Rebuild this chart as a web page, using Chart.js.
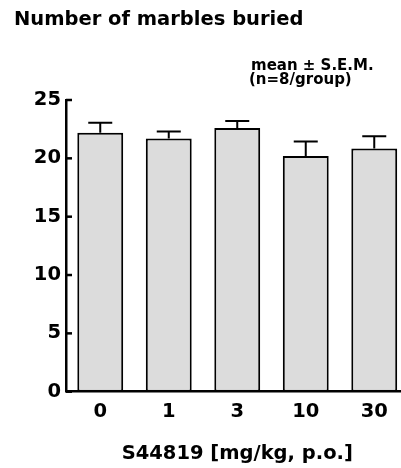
<!DOCTYPE html>
<html>
<head>
<meta charset="utf-8">
<script src="https://cdn.jsdelivr.net/npm/chart.js@4"></script>
<style>
  html, body { margin: 0; padding: 0; background: #fff; overflow: hidden; width: 401px; height: 468px; }
  canvas { display: block; }
</style>
</head>
<body>
<canvas id="c" width="410" height="468" style="width:410px;height:468px"></canvas>
<script>
const categories = ['0', '1', '3', '10', '30'];
const means = [22.2, 21.7, 22.6, 20.2, 20.85];
const sems = [0.85, 0.6, 0.6, 1.25, 1.05];
const yTicks = [0, 5, 10, 15, 20, 25];
const chartTitle = 'Number of marbles buried';
const noteLines = ['mean \u00b1 S.E.M.', '(n=8/group)'];
const xAxisTitle = 'S44819 [mg/kg, p.o.]';

const FONT = '"DejaVu Sans", sans-serif';

const decorPlugin = {
  id: 'decor',
  afterDatasetsDraw(chart) {
    const ctx = chart.ctx;
    const y = chart.scales.y;
    const meta = chart.getDatasetMeta(0);
    ctx.save();
    ctx.strokeStyle = '#000';
    ctx.lineWidth = 2;
    meta.data.forEach((bar, i) => {
      const top = y.getPixelForValue(means[i]);
      const et = y.getPixelForValue(means[i] + sems[i]);
      ctx.beginPath();
      ctx.moveTo(bar.x, top);
      ctx.lineTo(bar.x, et);
      ctx.moveTo(bar.x - 12, et);
      ctx.lineTo(bar.x + 12, et);
      ctx.stroke();
    });
    ctx.restore();
  },
  afterDraw(chart) {
    const ctx = chart.ctx;
    const y = chart.scales.y;
    const area = chart.chartArea;
    ctx.save();
    // inward tick marks
    ctx.strokeStyle = '#000';
    ctx.lineWidth = 2.5;
    yTicks.forEach(v => {
      const py = y.getPixelForValue(v);
      ctx.beginPath();
      ctx.moveTo(area.left, py);
      ctx.lineTo(area.left + 6, py);
      ctx.stroke();
    });
    // title
    ctx.fillStyle = '#000';
    ctx.textBaseline = 'alphabetic';
    ctx.textAlign = 'left';
    ctx.font = 'bold 19.5px ' + FONT;
    ctx.fillText(chartTitle, 14, 25);
    // note
    ctx.font = 'bold 15px ' + FONT;
    ctx.fillText(noteLines[0], 251, 70);
    ctx.fillText(noteLines[1], 249, 84);
    ctx.restore();
  }
};

new Chart(document.getElementById('c'), {
  type: 'bar',
  data: {
    labels: categories,
    datasets: [{
      data: means,
      backgroundColor: '#dcdcdc',
      borderColor: '#000',
      borderWidth: 2,
      borderSkipped: false,
      barPercentage: 0.67,
      categoryPercentage: 1.0
    }]
  },
  options: {
    responsive: false,
    animation: false,
    devicePixelRatio: 1,
    layout: { padding: { left: 14, top: 100, right: 1.5, bottom: 0 } },
    plugins: { legend: { display: false }, tooltip: { enabled: false }, title: { display: false } },
    scales: {
      x: {
        offset: true,
        grid: { display: false, drawTicks: false },
        border: { display: true, color: '#000', width: 2.5 },
        ticks: { color: '#000', font: { family: FONT, size: 19.5, weight: 'bold' }, padding: 9 },
        title: { display: true, text: xAxisTitle, color: '#000', font: { family: FONT, size: 19.5, weight: 'bold' }, padding: { top: 10, bottom: 2 } },
        afterFit(s) { s.height = 468 - 391.7; }
      },
      y: {
        min: 0, max: 25,
        grid: { display: false, drawTicks: false },
        border: { display: true, color: '#000', width: 2.5 },
        ticks: { stepSize: 5, color: '#000', font: { family: FONT, size: 19.5, weight: 'bold' }, padding: 5 },
        afterFit(s) { s.width = 52; }
      }
    }
  },
  plugins: [decorPlugin]
});
</script>
</body>
</html>
